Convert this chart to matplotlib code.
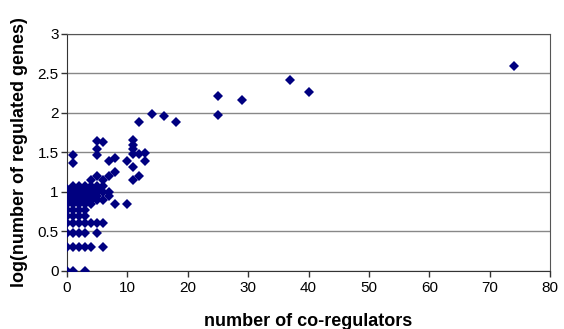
import matplotlib.pyplot as plt
import numpy as np

# number of co-regulators (x) and log10(number of regulated genes) (y)
co_regulators = [
    0, 1, 3,
    0, 1, 2, 3, 4, 6,
    0, 1, 2, 3, 5,
    0, 1, 2, 3, 4, 5, 6,
    0, 1, 2, 3,
    0, 1, 2, 3,
    0, 1, 2, 3, 4, 8, 10,
    0, 1, 2, 3, 4, 5, 6,
    0, 1, 2, 3, 4, 5, 7,
    0, 1, 2, 3, 4, 5, 6, 7,
    0, 1, 2, 3, 4, 5,
    1, 2, 3, 4, 5, 6,
    4, 6, 11,
    5, 7, 12,
    8, 11,
    7, 10, 13, 8,
    1, 1, 5,
    11, 12, 13,
    5, 11, 11, 6, 5, 11,
    12, 18, 14, 16,
    25, 25, 29, 37, 40, 74,
]
log_genes = [
    0, 0, 0,
    0.301, 0.301, 0.301, 0.301, 0.301, 0.301,
    0.477, 0.477, 0.477, 0.477, 0.477,
    0.602, 0.602, 0.602, 0.602, 0.602, 0.602, 0.602,
    0.699, 0.699, 0.699, 0.699,
    0.778, 0.778, 0.778, 0.778,
    0.845, 0.845, 0.845, 0.845, 0.845, 0.845, 0.845,
    0.903, 0.903, 0.903, 0.903, 0.903, 0.903, 0.903,
    0.954, 0.954, 0.954, 0.954, 0.954, 0.954, 0.954,
    1.0, 1.0, 1.0, 1.0, 1.0, 1.0, 1.0, 1.0,
    1.041, 1.041, 1.041, 1.041, 1.041, 1.041,
    1.079, 1.079, 1.079, 1.079, 1.079, 1.079,
    1.146, 1.146, 1.146,
    1.204, 1.204, 1.204,
    1.255, 1.322,
    1.398, 1.398, 1.398, 1.431,
    1.362, 1.462, 1.462,
    1.477, 1.477, 1.491,
    1.544, 1.544, 1.591, 1.633, 1.643, 1.653,
    1.881, 1.881, 1.987, 1.959,
    1.97, 2.215, 2.16, 2.42, 2.27, 2.59,
]

x_ticks = [0, 10, 20, 30, 40, 50, 60, 70, 80]
y_ticks = [0, 0.5, 1, 1.5, 2, 2.5, 3]
y_tick_labels = ['0', '0.5', '1', '1.5', '2', '2.5', '3']

plt.rcParams['font.family'] = ['Liberation Sans', 'DejaVu Sans']

fig = plt.figure(figsize=(5.64, 3.29), dpi=100)
ax = fig.add_axes([0.1188, 0.1763, 0.8564, 0.7204])

ax.plot(co_regulators, log_genes, linestyle='none', marker='D',
        markersize=5, color='#000080', markeredgewidth=0, zorder=3)

ax.set_xlim(0, 80)
ax.set_ylim(0, 3)
ax.set_xticks(x_ticks)
ax.set_yticks(y_ticks)
ax.set_yticklabels(y_tick_labels)
ax.tick_params(direction='out', length=4, width=1, labelsize=11,
               color='#333333', pad=2)
ax.tick_params(axis='x', pad=3)

ax.yaxis.grid(True, color='#888888', linewidth=1)
ax.set_axisbelow(True)
for side in ['left', 'bottom']:
    ax.spines[side].set_color('#333333')
for side in ['top', 'right']:
    ax.spines[side].set_color('#555555')

ax.set_xlabel('number of co-regulators', fontsize=13, fontweight='bold', labelpad=13)
ax.set_ylabel('log(number of regulated genes)', fontsize=13, fontweight='bold', labelpad=7)

fig.savefig('out.png', dpi=100)
